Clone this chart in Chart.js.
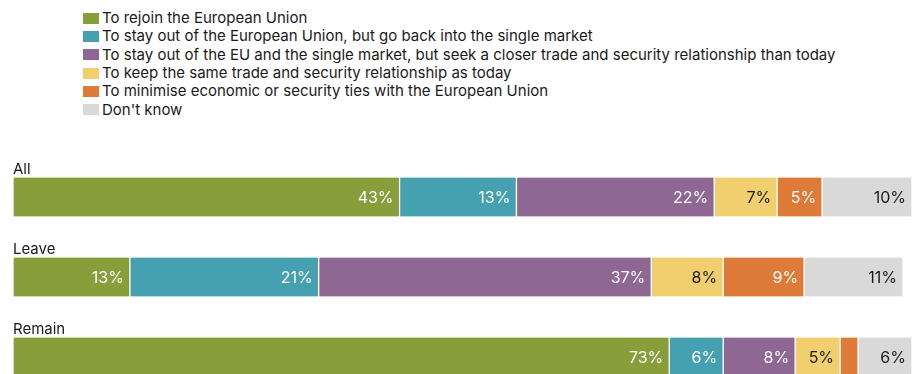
<!DOCTYPE html>
<html>
<head>
<meta charset="utf-8">
<script src="https://cdn.jsdelivr.net/npm/chart.js@4/dist/chart.umd.min.js"></script>
<style>
  html, body { margin: 0; padding: 0; background: #fff; overflow: hidden; }
  body { width: 912px; height: 374px; position: relative; font-family: Inter, "Liberation Sans", sans-serif; color: #1a1a1a; }
  #legend { position: absolute; left: 83px; top: 9px; font-size: 15px; }
  #legend .item { height: 18.33px; line-height: 18.33px; white-space: nowrap; display: flex; align-items: center; }
  #legend .box { width: 16px; height: 11px; margin-right: 3px; flex: none; }
  #wrap { position: absolute; left: 13px; top: 157px; width: 899px; height: 240px; }
</style>
</head>
<body>
<div id="legend"></div>
<div id="wrap"><canvas id="myChart"></canvas></div>
<script>
var categories = ['All', 'Leave', 'Remain'];

var seriesNames = [
    'To rejoin the European Union',
    'To stay out of the European Union, but go back into the single market',
    'To stay out of the EU and the single market, but seek a closer trade and security relationship than today',
    'To keep the same trade and security relationship as today',
    'To minimise economic or security ties with the European Union',
    "Don't know"
];

// share of respondents (%) per group: All, Leave, Remain
var rejoin = [43, 13, 73];
var singleMarket = [13, 21, 6];
var closerTies = [22, 37, 8];
var sameAsToday = [7, 8, 5];
var minimiseTies = [5, 9, 2];
var dontKnow = [10, 11, 6];

var seriesValues = [rejoin, singleMarket, closerTies, sameAsToday, minimiseTies, dontKnow];
var colours = ['#879e3a', '#45a1b0', '#8e6893', '#f2cf6e', '#de7b38', '#d9d9d9'];
var labelColours = ['#fff', '#fff', '#fff', '#1a1a1a', '#fff', '#1a1a1a'];

var FONT = 'Inter, "Liberation Sans", sans-serif';

// legend, one row per series
var legendEl = document.getElementById('legend');
seriesNames.forEach(function(name, i){
    var row = document.createElement('div');
    row.className = 'item';
    var box = document.createElement('span');
    box.className = 'box';
    box.style.background = colours[i];
    var txt = document.createElement('span');
    txt.textContent = name;
    row.appendChild(box);
    row.appendChild(txt);
    legendEl.appendChild(row);
});

// group names above each bar + value labels inside the segments
var barText = {
    id: 'barText',
    afterDatasetsDraw: function(chart){
        var ctx = chart.ctx;
        ctx.save();
        ctx.textBaseline = 'middle';
        ctx.textAlign = 'right';
        ctx.font = '16px ' + FONT;
        chart.data.datasets.forEach(function(ds, i){
            var meta = chart.getDatasetMeta(i);
            meta.data.forEach(function(bar, j){
                var v = ds.data[j];
                if (v < 3) return;
                ctx.fillStyle = labelColours[i];
                ctx.fillText(v + '%', bar.x - 6, bar.y + 1);
            });
        });
        ctx.textAlign = 'left';
        ctx.textBaseline = 'alphabetic';
        ctx.font = '15px ' + FONT;
        ctx.fillStyle = '#1a1a1a';
        var first = chart.getDatasetMeta(0);
        first.data.forEach(function(bar, j){
            ctx.fillText(categories[j], chart.chartArea.left, bar.y - bar.height / 2 - 4);
        });
        ctx.restore();
    }
};

var ctx = document.getElementById('myChart').getContext('2d');
var chart = new Chart(ctx, {
    type: 'bar',
    data: {
        labels: categories,
        datasets: seriesValues.map(function(vals, i){
            return {
                label: seriesNames[i],
                data: vals,
                backgroundColor: colours[i],
                borderColor: '#ffffff',
                borderWidth: { left: 1, right: 1, top: 0, bottom: 0 },
                borderSkipped: false,
                barThickness: 39
            };
        })
    },
    options: {
        indexAxis: 'y',
        responsive: true,
        maintainAspectRatio: false,
        animation: false,
        layout: { padding: 0 },
        plugins: {
            legend: { display: false },
            tooltip: { enabled: false }
        },
        scales: {
            x: { stacked: true, min: 0, max: 100, display: false },
            y: { stacked: true, display: false }
        }
    },
    plugins: [barText]
});
</script>
</body>
</html>
